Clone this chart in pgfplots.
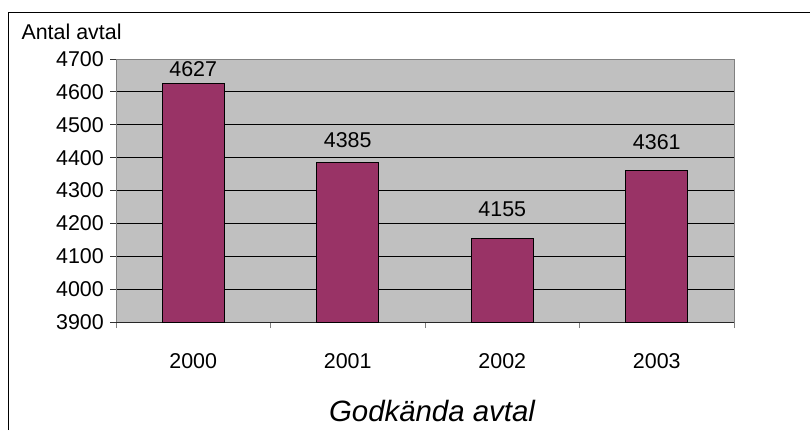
\documentclass[border=0pt]{standalone}
\usepackage{pgfplots}
\usepackage{pgfplotstable}
\pgfplotsset{compat=1.18}
\usepackage{fontspec}
\setmainfont{Liberation Sans}
\definecolor{barc}{HTML}{993366}
\definecolor{plotbg}{HTML}{C0C0C0}
\definecolor{axgray}{HTML}{808080}
\pgfplotstableread{
x y off
0 4627 6
1 4385 14
2 4155 21
3 4361 20
}\datatable
\begin{document}
\begin{tikzpicture}[x=1bp,y=1bp]
\useasboundingbox (0,0) rectangle (810,430);
\draw[line width=1bp] (8,0) -- (8,417) -- (810,417);
\begin{axis}[
  at={(116bp,108bp)}, anchor=south west,
  scale only axis, width=618bp, height=263bp,
  xmin=-0.5, xmax=3.5, ymin=3900, ymax=4700,
  axis background/.style={fill=plotbg, draw=axgray, line width=1bp},
  axis x line*=bottom, axis y line*=left,
  x axis line style={black!85, line width=1bp, -},
  y axis line style={axgray, line width=1bp, -},
  ytick={4000,4100,...,4600},
  extra y ticks={3900,4700},
  extra y tick style={grid=none},
  ymajorgrids, grid style={black, line width=0.8bp},
  xtick={-0.5,0.5,1.5,2.5,3.5}, xticklabels={},
  extra x ticks={0,1,2,3}, extra x tick labels={2000,2001,2002,2003},
  extra x tick style={major tick length=0pt, xticklabel style={yshift=-28bp}},
  xtick pos=bottom, ytick pos=left,
  tick align=outside, major tick length=6bp,
  xtick style={axgray, line width=1bp},
  ytick style={black!80, line width=1bp},
  ticklabel style={font=\fontsize{21.5}{26}\selectfont, text=black},
  /pgf/number format/assume math mode=true,
  /pgf/number format/1000 sep={},
  yticklabel style={anchor=east, inner sep=0pt, xshift=-6bp},
  ybar, bar width=62bp,
  nodes near coords,
  visualization depends on={\thisrow{off} \as \off},
  every node near coord/.append style={font=\fontsize{21.5}{26}\selectfont, text=black, inner sep=0pt, anchor=south, yshift=\off bp},
]
\addplot[fill=barc, draw=black, line width=1bp] table[x=x, y=y] {\datatable};
\end{axis}
\node[anchor=base west, font=\fontsize{21.5}{26}\selectfont] at (18,390) {Antal avtal};
\node[anchor=base, font=\fontsize{29.5}{35}\selectfont\itshape] at (432,9) {Godkända avtal};
\end{tikzpicture}
\end{document}
